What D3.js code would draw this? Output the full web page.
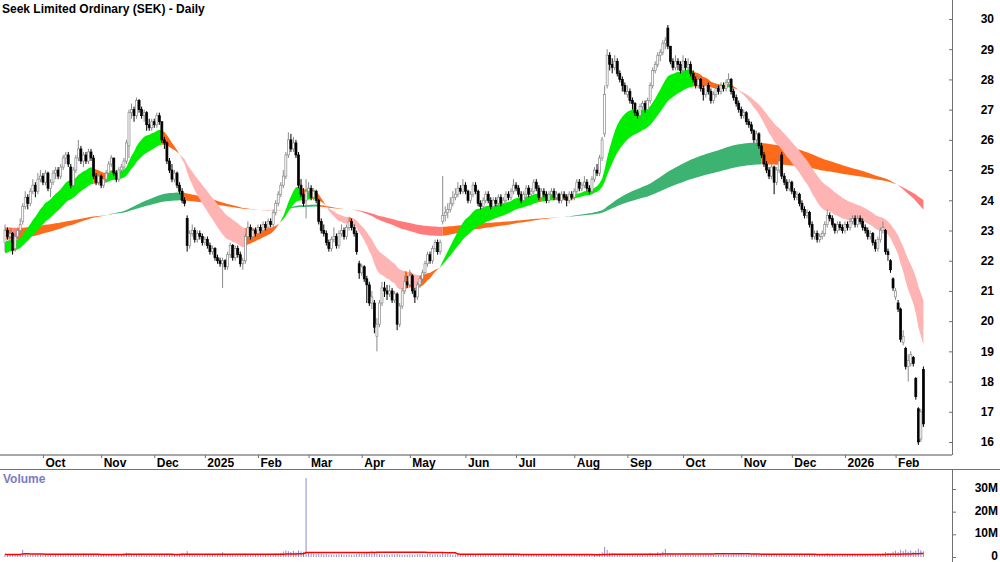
<!DOCTYPE html>
<html>
<head>
<meta charset="utf-8">
<script src="https://cdn.jsdelivr.net/npm/d3@7/dist/d3.min.js"></script>
<style>
  body { margin: 0; background: #fff; }
  svg { display: block; }
  text { font-family: "Liberation Sans Narrow", "Arial Narrow", "Liberation Sans", Arial, sans-serif; font-weight: bold; }
</style>
</head>
<body>
<svg id="chart" width="1000" height="562"></svg>
<script>
// trading days: Sep 10 2024 .. Feb 17 2026 (ASX holidays removed)
const holidays = ["2024-12-25", "2024-12-26", "2025-01-01", "2025-01-27", "2025-04-18", "2025-04-21",
  "2025-04-25", "2025-06-09", "2025-12-25", "2025-12-26", "2026-01-01", "2026-01-26"];

const opens = [
  22.6,23.0,22.8,22.9,22.4,22.8,23.0,23.3,23.8,24.1, 23.9,24.3,24.5,24.3,24.7,24.8,24.6,24.9,24.4,24.6,
  24.9,25.0,24.8,25.1,25.4,25.5,25.1,24.5,25.0,25.4, 25.7,25.3,25.5,25.3,25.6,25.4,24.8,24.6,24.8,24.5,
  24.7,24.9,25.2,25.4,24.9,24.7,25.0,25.1,25.3,25.8, 26.9,27.0,26.8,27.3,27.0,26.8,26.9,26.5,26.4,26.6,
  26.5,26.8,26.6,26.0,25.9,25.3,25.0,24.7,24.9,24.5, 24.3,24.0,23.4,22.5,22.9,23.0,22.7,22.9,22.8,22.6,
  22.7,22.5,22.3,22.4,22.1,22.0,21.9,22.0,21.8,22.2, 22.5,22.1,22.4,22.2,21.9,22.0,22.8,23.1,22.8,23.0,
  22.9,23.1,23.0,23.2,23.1,23.3,23.2,23.6,23.9,24.2, 24.5,24.8,25.5,26.0,25.7,25.9,25.5,24.5,24.2,24.0,
  24.3,24.4,24.1,24.3,24.0,23.3,23.0,22.9,22.6,22.4, 22.7,22.8,22.5,22.9,23.0,22.8,23.1,23.3,23.1,22.9,
  21.9,21.6,21.8,21.4,21.2,20.6,20.6,19.5,19.9,20.6, 21.1,21.0,20.9,21.0,20.7,20.9,19.9,20.5,21.0,21.3,
  21.2,21.5,21.0,20.8,21.2,21.4,21.6,21.9,22.2,22.0, 22.4,22.6,22.3,23.3,23.5,23.6,23.7,23.9,24.1,24.2,
  24.4,24.3,24.5,24.3,24.0,24.2,24.5,24.3,23.9,23.8, 24.0,24.2,24.0,23.8,24.0,23.9,24.1,23.9,24.0,24.2,
  24.1,24.3,24.5,24.4,24.2,24.0,24.2,24.4,24.2,24.3, 24.6,24.4,24.1,24.3,24.2,24.0,24.2,24.3,24.1,24.2,
  24.0,24.2,24.1,24.0,24.2,24.1,24.3,24.6,24.4,24.5, 24.6,24.4,24.3,24.7,25.0,24.9,25.4,26.2,27.8,28.8,
  28.5,28.4,28.6,28.2,28.0,27.8,27.5,27.6,27.3,27.2, 26.9,26.8,27.1,27.2,27.0,27.3,27.8,28.3,28.5,28.8,
  28.9,29.2,29.7,29.1,28.6,28.4,28.6,28.5,28.3,28.6, 28.4,28.5,28.2,28.0,27.8,28.0,27.7,27.5,27.8,27.6,
  27.3,27.5,27.7,27.6,27.8,27.7,27.9,28.0,27.6,27.4, 27.2,27.0,26.8,26.9,26.6,26.5,26.3,26.0,26.2,25.8,
  25.5,25.2,25.0,24.8,25.1,24.6,25.0,25.5,24.8,24.6, 24.4,24.6,24.3,24.1,24.2,23.9,23.7,23.5,23.6,23.2,
  22.8,22.9,22.7,22.8,22.9,23.2,23.5,23.4,23.2,23.0, 23.2,23.1,23.0,23.2,23.1,23.3,23.4,23.2,23.4,23.3,
  23.1,23.0,22.8,22.9,22.6,22.4,22.7,23.0,23.0,22.3, 22.0,21.4,20.8,20.6,20.4,19.3,19.1,18.5,18.6,18.8,
  18.1,17.1,16.1,18.4
];
const highs = [
  23.2,23.1,23.0,22.95,22.9,23.1,23.4,23.9,24.3,24.2, 24.4,24.7,24.6,24.9,25.0,24.9,25.0,24.95,24.7,25.0,
  25.1,25.1,25.2,25.5,25.6,25.6,25.2,25.1,25.5,26.0, 25.8,25.6,25.6,25.7,25.7,25.5,24.9,24.9,24.85,24.8,
  25.0,25.3,25.5,25.4,25.0,25.1,25.2,25.4,26.0,27.0, 27.2,27.1,27.4,27.35,27.1,27.0,26.95,26.7,26.7,26.7,
  26.9,26.9,26.6,26.1,25.95,25.4,25.2,25.0,24.95,24.6, 24.4,24.1,23.5,23.0,23.2,23.1,23.0,23.0,22.9,22.8,
  22.8,22.6,22.5,22.45,22.2,22.1,22.1,22.05,22.3,22.6, 22.55,22.5,22.5,22.3,22.1,22.9,23.3,23.2,23.1,23.1,
  23.2,23.2,23.3,23.3,23.4,23.4,23.7,24.0,24.3,24.6, 25.0,25.6,26.25,26.2,26.1,26.0,25.6,24.7,24.4,24.7,
  24.6,24.5,24.4,24.35,24.05,23.4,23.2,23.0,22.7,22.8, 23.1,22.9,23.0,23.2,23.1,23.2,23.45,23.4,23.2,23.0,
  22.0,21.9,21.85,21.5,21.3,21.0,20.7,20.1,20.7,21.3, 21.3,21.2,21.2,21.1,21.0,20.95,20.6,21.1,21.5,21.5,
  21.7,21.55,21.1,21.3,21.5,21.7,22.0,22.3,22.3,22.5, 22.7,22.7,22.7,24.8,23.8,23.9,24.1,24.3,24.4,24.6,
  24.5,24.7,24.6,24.35,24.3,24.6,24.6,24.35,24.0,24.1, 24.3,24.3,24.1,24.1,24.1,24.2,24.2,24.1,24.3,24.3,
  24.4,24.7,24.6,24.5,24.3,24.3,24.5,24.5,24.4,24.7, 24.7,24.5,24.4,24.4,24.3,24.3,24.4,24.4,24.3,24.25,
  24.3,24.3,24.2,24.3,24.3,24.4,24.7,24.7,24.6,24.8, 24.7,24.5,24.8,25.1,25.2,25.5,26.1,27.8,29.0,28.9,
  28.7,28.8,28.7,28.3,28.1,27.9,27.8,27.7,27.4,27.25, 27.0,27.2,27.3,27.3,27.4,27.9,28.4,28.6,28.9,29.0,
  29.3,29.4,29.8,29.1,28.7,28.8,28.7,28.6,28.8,28.7, 28.7,28.6,28.3,28.1,28.1,28.05,27.8,27.9,27.9,27.7,
  27.6,27.8,27.8,27.9,27.9,28.0,28.2,28.05,27.7,27.5, 27.3,27.1,27.0,26.95,26.7,26.6,26.35,26.3,26.25,25.9,
  25.6,25.3,25.1,25.2,25.15,25.1,25.6,25.6,24.9,24.7, 24.7,24.65,24.4,24.3,24.25,24.0,23.8,23.7,23.65,23.3,
  23.0,23.0,22.9,23.0,23.3,23.7,23.6,23.5,23.25,23.3, 23.3,23.2,23.3,23.3,23.4,23.5,23.5,23.5,23.5,23.4,
  23.2,23.1,23.0,22.95,22.7,22.8,23.1,23.3,23.05,22.4, 22.05,21.45,21.1,20.7,20.45,19.7,19.15,18.9,19.0,18.85,
  18.15,17.15,17.1,18.5
];
const lows = [
  22.3,22.7,22.6,22.2,22.3,22.7,22.9,23.2,23.7,23.7, 23.8,24.2,24.1,24.2,24.6,24.5,24.5,24.3,24.1,24.5,
  24.7,24.7,24.7,25.0,25.2,25.1,24.4,24.4,24.9,25.3, 25.2,25.1,25.2,25.2,25.3,24.7,24.5,24.5,24.4,24.4,
  24.6,24.8,25.1,24.8,24.6,24.6,24.9,25.0,25.2,25.4, 26.7,26.6,26.7,26.9,26.7,26.6,26.3,26.3,26.3,26.4,
  26.4,26.5,25.9,25.7,25.2,24.9,24.6,24.6,24.4,24.2, 23.9,23.8,22.3,22.4,22.8,22.6,22.6,22.7,22.5,22.5,
  22.4,22.2,22.2,22.0,21.9,21.8,21.1,21.7,21.7,22.1, 22.0,22.0,22.1,21.8,21.7,21.9,22.7,22.7,22.7,22.8,
  22.8,22.9,22.9,23.0,23.0,23.1,23.1,23.5,23.8,24.1, 24.4,24.7,25.4,25.6,25.6,25.4,24.4,24.1,23.8,23.4,
  24.2,24.0,24.0,23.9,23.2,22.9,22.8,22.5,22.3,22.3, 22.6,22.4,22.4,22.8,22.7,22.7,23.0,23.0,22.8,22.2,
  21.4,21.5,21.3,20.6,20.5,20.4,19.6,19.0,19.8,20.5, 20.8,20.7,20.8,20.6,20.6,19.7,19.8,20.4,20.9,21.1,
  21.1,20.9,20.6,20.7,21.1,21.3,21.5,21.8,21.9,21.9, 22.3,22.2,22.2,23.2,23.3,23.4,23.6,23.8,24.0,24.1,
  24.2,24.2,24.2,23.9,23.9,24.1,24.2,23.8,23.7,23.7, 23.9,23.9,23.7,23.7,23.8,23.8,23.8,23.8,23.9,24.0,
  24.0,24.2,24.3,24.1,23.9,23.9,24.1,24.1,24.1,24.2, 24.3,24.0,24.0,24.1,23.9,23.9,24.1,24.0,24.0,23.9,
  23.9,24.0,23.8,23.9,24.0,24.0,24.2,24.3,24.3,24.4, 24.3,24.2,24.2,24.6,24.8,24.8,25.3,26.1,27.7,28.3,
  28.2,28.3,28.1,27.9,27.6,27.5,27.4,27.2,27.0,26.8, 26.7,26.7,27.0,26.9,26.9,27.2,27.7,28.2,28.4,28.6,
  28.8,29.0,29.0,28.5,28.3,28.3,28.3,28.2,28.2,28.3, 28.3,28.1,27.9,27.7,27.7,27.6,27.3,27.4,27.5,27.2,
  27.2,27.4,27.5,27.5,27.6,27.6,27.8,27.5,27.3,27.1, 26.9,26.7,26.7,26.5,26.4,26.2,25.9,25.9,25.7,25.4,
  25.1,24.9,24.7,24.7,24.2,24.5,24.9,24.7,24.5,24.3, 24.3,24.2,24.0,24.0,23.8,23.6,23.4,23.4,23.1,22.7,
  22.7,22.6,22.6,22.7,22.8,23.1,23.3,23.1,22.9,22.9, 23.0,22.9,22.9,23.0,23.0,23.2,23.1,23.1,23.2,23.0,
  22.9,22.7,22.7,22.5,22.3,22.3,22.6,22.9,22.2,22.0, 21.6,21.0,20.7,20.3,19.3,19.2,18.4,18.0,18.5,18.5,
  17.4,15.9,16.0,16.5
];
const closes = [
  23.0,22.8,22.9,22.35,22.8,23.0,23.2,23.8,24.1,23.9, 24.3,24.5,24.3,24.7,24.8,24.6,24.9,24.4,24.6,24.9,
  25.0,24.8,25.1,25.4,25.5,25.2,24.5,25.0,25.4,25.7, 25.3,25.5,25.3,25.6,25.4,24.8,24.6,24.8,24.5,24.7,
  24.9,25.2,25.4,24.9,24.7,25.0,25.1,25.3,25.9,26.9, 27.0,26.8,27.3,27.0,26.8,26.9,26.5,26.4,26.6,26.5,
  26.8,26.6,26.0,25.9,25.3,25.0,24.7,24.9,24.5,24.3, 24.0,23.9,22.5,22.9,23.0,22.7,22.9,22.8,22.6,22.7,
  22.5,22.3,22.4,22.1,22.0,21.9,22.0,21.8,22.2,22.5, 22.1,22.4,22.2,21.9,22.0,22.8,23.1,22.8,23.0,22.9,
  23.1,23.0,23.2,23.1,23.3,23.2,23.6,23.9,24.2,24.5, 24.8,25.5,26.0,25.7,25.9,25.5,24.5,24.2,23.9,24.3,
  24.4,24.1,24.3,24.0,23.3,23.0,22.9,22.6,22.4,22.7, 22.8,22.5,22.9,23.0,22.8,23.1,23.3,23.1,22.9,22.3,
  21.6,21.8,21.4,21.2,20.6,20.8,19.8,19.9,20.6,21.1, 21.0,20.9,21.0,20.7,20.9,19.9,20.5,21.0,21.3,21.2,
  21.5,21.0,20.8,21.2,21.4,21.6,21.9,22.2,22.0,22.4, 22.6,22.3,22.6,23.5,23.6,23.7,23.9,24.1,24.2,24.4,
  24.3,24.5,24.3,24.0,24.2,24.5,24.3,23.9,23.8,24.0, 24.2,24.0,23.8,24.0,23.9,24.1,23.9,24.0,24.2,24.1,
  24.3,24.5,24.4,24.2,24.0,24.2,24.4,24.2,24.3,24.6, 24.4,24.1,24.3,24.2,24.0,24.2,24.3,24.1,24.2,24.0,
  24.2,24.1,24.0,24.2,24.1,24.3,24.6,24.4,24.5,24.6, 24.4,24.3,24.7,25.0,24.9,25.4,26.0,27.5,28.8,28.5,
  28.4,28.6,28.2,28.0,27.8,27.6,27.6,27.3,27.2,26.9, 26.8,27.1,27.2,27.0,27.3,27.8,28.3,28.5,28.8,28.9,
  29.2,29.3,29.1,28.6,28.4,28.6,28.5,28.3,28.6,28.4, 28.5,28.2,28.0,27.8,28.0,27.7,27.5,27.8,27.6,27.3,
  27.5,27.7,27.6,27.8,27.7,27.9,28.0,27.6,27.4,27.2, 27.0,26.8,26.9,26.6,26.5,26.3,26.0,26.2,25.8,25.5,
  25.2,25.0,24.8,25.1,24.6,25.0,25.3,24.8,24.6,24.4, 24.6,24.3,24.1,24.2,23.9,23.7,23.5,23.6,23.2,22.8,
  22.9,22.7,22.8,22.9,23.2,23.5,23.4,23.2,23.0,23.2, 23.1,23.0,23.2,23.1,23.3,23.4,23.2,23.4,23.3,23.1,
  23.0,22.8,22.9,22.6,22.4,22.7,23.0,23.1,22.3,22.2, 21.7,21.1,21.0,20.4,19.4,19.5,18.5,18.7,18.9,18.6,
  17.5,16.0,17.0,16.6
];
// daily volume, millions of shares
const volumes = [
  1.2,0.9,1.1,1.4,1.0,0.9,1.3,3.2,1.8,1.1,1.0,1.2,0.9,1.1,1.3,
  1.0,0.9,1.2,1.1,0.8,1.0,1.3,0.9,1.1,1.0,1.4,1.2,0.9,1.1,1.0,1.3,1.5,1.1,0.9,1.0,1.2,0.8,1.1,
  0.9,1.0,1.2,1.1,0.9,1.0,1.3,1.1,1.2,1.5,1.9,1.6,1.2,1.3,1.1,1.0,1.4,1.2,0.9,1.1,1.0,
  1.1,1.0,1.2,1.4,1.3,1.5,1.2,1.1,1.3,1.2,1.4,1.6,1.3,2.6,1.5,1.2,1.0,1.1,0.8,0.7,
  0.9,1.1,1.0,1.2,1.1,1.3,1.2,2.1,1.4,1.0,1.1,1.2,0.9,1.0,1.1,1.3,1.5,1.2,1.0,1.1,1.2,
  1.1,1.0,1.2,1.3,1.1,1.2,1.4,1.6,1.5,1.8,2.4,2.9,2.6,2.2,2.7,2.0,2.9,2.5,2.3,34.8,
  2.1,1.6,1.4,1.3,1.5,1.4,1.2,1.3,1.1,1.2,1.0,1.1,1.3,1.2,1.0,1.1,1.2,1.0,1.1,1.3,1.5,
  1.4,1.6,1.8,1.5,1.7,2.0,1.6,1.3,1.2,1.1,1.3,1.0,1.2,1.1,1.4,1.2,1.0,1.1,1.0,
  1.2,1.1,1.0,1.2,1.3,1.1,1.0,1.2,1.4,1.1,1.3,1.2,1.1,2.2,1.5,1.3,1.2,1.0,1.1,1.2,0.9,1.0,
  1.1,0.9,1.0,1.2,1.1,0.8,1.0,0.9,1.1,1.0,1.2,0.9,1.0,1.1,0.8,1.3,1.0,1.2,0.9,1.1,
  1.0,0.9,1.1,1.0,0.8,0.9,1.0,1.1,0.9,1.0,0.8,1.1,1.0,0.9,1.2,1.0,1.1,0.9,1.0,0.8,1.0,0.9,1.1,
  1.0,1.2,1.1,0.9,1.0,1.1,1.3,1.2,1.4,1.1,1.6,2.0,4.4,3.1,1.9,1.6,1.5,1.3,1.4,1.2,1.1,
  1.2,1.0,1.1,1.3,1.2,1.0,1.1,1.2,1.4,1.8,1.5,1.3,2.1,1.6,2.4,3.6,1.8,1.5,1.3,1.2,1.1,1.0,
  1.1,1.0,1.2,0.9,1.1,1.0,1.2,1.1,0.9,1.0,1.1,1.2,0.9,1.0,1.1,1.0,1.2,0.9,1.1,1.0,1.3,1.1,1.2,
  1.3,1.1,1.0,1.2,1.1,1.4,1.2,1.0,1.1,1.3,1.2,1.0,1.1,1.4,1.2,1.0,1.3,1.1,1.0,1.2,
  1.1,1.0,1.2,1.1,0.9,1.0,1.3,1.1,1.0,1.2,0.9,1.1,1.0,1.2,1.6,1.1,1.0,0.9,0.8,0.7,0.9,
  1.0,1.1,1.2,1.0,1.1,1.3,1.0,1.2,1.1,1.0,1.2,1.4,1.3,1.5,1.2,1.6,2.2,1.8,1.5,2.4,
  2.8,2.1,3.2,2.6,3.3,2.4,2.9,2.3,2.8,3.7,3.0,2.5
];
const priceTicks = d3.range(16, 31);
const volumeTicks = [0, 10, 20, 30];

// moving-average ribbons: fast and slow EMA per ribbon, value at the first bar
const shortPeriods = [18, 35];
const shortStart = [22.6, 22.2];
const longPeriods = [150, 250];
const longStart = [22.7, 23.1];

const shortColors = { bull: "#00ee00", bear: "#ffb4b4", mixed: "#ff6a1a" };
const longColors = { bull: "#3cb371", bear: "#ff7b7b", mixed: "#ff6a1a" };

const n = closes.length;
const fmt = d3.utcFormat("%Y-%m-%d");
const days = d3.utcDays(new Date(Date.UTC(2024, 8, 10)), new Date(Date.UTC(2026, 1, 18)))
  .filter(d => d.getUTCDay() % 6 !== 0 && !holidays.includes(fmt(d)))
  .slice(0, n);

const svg = d3.select("#chart");
const axisX = 952;

const x = d3.scaleLinear().domain([0, n - 1]).range([5, 923.4]);
const y = d3.scaleLinear().domain([16, 30]).range([442, 19]);
const yv = d3.scaleLinear().domain([0, 30]).range([557, 489]);

function emaSeries(vals, period, start) {
  const k = 2 / (period + 1);
  let e = start;
  return vals.map(v => (e = e + k * (v - e)));
}

// green: fast above slow and ribbon rising; red: fast below and falling; orange otherwise
function drawRibbon(periods, starts, colors) {
  const [fast, slow] = periods.map((p, j) => emaSeries(closes, p, starts[j]));
  const state = closes.map((_, i) => {
    const j = Math.max(0, i - 1);
    const up = fast[i] + slow[i] >= fast[j] + slow[j];
    const above = fast[i] > slow[i];
    if (above && up) return "bull";
    if (!above && !up) return "bear";
    return "mixed";
  });
  const area = d3.area().x(i => x(i)).y0(i => y(fast[i])).y1(i => y(slow[i]));
  const g = svg.append("g");
  let s = 0;
  for (let i = 1; i <= n; i++) {
    if (i === n || state[i] !== state[s]) {
      g.append("path")
        .attr("d", area(d3.range(s, Math.min(i + 1, n))))
        .attr("fill", colors[state[s]]);
      s = i;
    }
  }
}

drawRibbon(longPeriods, longStart, longColors);
drawRibbon(shortPeriods, shortStart, shortColors);

// candles
const candles = svg.append("g").selectAll("g").data(d3.range(n)).join("g");
candles.append("line")
  .attr("x1", i => x(i)).attr("x2", i => x(i))
  .attr("y1", i => y(highs[i])).attr("y2", i => y(lows[i]))
  .attr("stroke", i => closes[i] < opens[i] ? "#000" : "#8a8a8a")
  .attr("stroke-width", 1);
candles.append("rect")
  .attr("x", i => x(i) - 1)
  .attr("width", 2)
  .attr("y", i => y(Math.max(opens[i], closes[i])))
  .attr("height", i => Math.max(0.8, Math.abs(y(opens[i]) - y(closes[i]))))
  .attr("fill", i => closes[i] < opens[i] ? "#000" : "#fff")
  .attr("stroke", i => closes[i] < opens[i] ? "#000" : "#8a8a8a")
  .attr("stroke-width", 0.7);

// volume
svg.append("g").selectAll("line").data(d3.range(n)).join("line")
  .attr("x1", i => x(i)).attr("x2", i => x(i))
  .attr("y1", yv(0)).attr("y2", i => yv(volumes[i]))
  .attr("stroke", "#8c8cd2").attr("stroke-width", 1);

const volAvg = volumes.map((_, i) => d3.mean(volumes.slice(Math.max(0, i - 59), i + 1)));
svg.append("path")
  .attr("d", d3.line().x((_, i) => x(i)).y(v => yv(v))(volAvg))
  .attr("fill", "none").attr("stroke", "#ff0000").attr("stroke-width", 1.5);

// frame lines
svg.append("line").attr("x1", 0).attr("x2", axisX).attr("y1", 455).attr("y2", 455)
  .attr("stroke", "#a8a8a8").attr("stroke-width", 2);
svg.append("line").attr("x1", 0).attr("x2", 1000).attr("y1", 469.5).attr("y2", 469.5)
  .attr("stroke", "#707070").attr("stroke-width", 1);
svg.append("line").attr("x1", axisX + 0.5).attr("x2", axisX + 0.5).attr("y1", 0).attr("y2", 455)
  .attr("stroke", "#707070");
svg.append("line").attr("x1", axisX + 0.5).attr("x2", axisX + 0.5).attr("y1", 469).attr("y2", 562)
  .attr("stroke", "#707070");

// price axis
const pAxis = svg.append("g").attr("transform", `translate(${axisX},0)`)
  .call(d3.axisLeft(y).tickValues(priceTicks).tickSize(3).tickFormat(""));
pAxis.select(".domain").remove();
pAxis.selectAll("line").attr("stroke", "#707070");
const pLabels = svg.append("g").attr("transform", `translate(${axisX},0)`)
  .call(d3.axisRight(y).tickValues(priceTicks).tickSize(0).tickFormat(d3.format("d")));
pLabels.select(".domain").remove();
pLabels.selectAll("text").attr("x", 42).attr("text-anchor", "end")
  .attr("font-size", 12).attr("fill", "#000").attr("font-family", null);

// volume axis
const vAxis = svg.append("g").attr("transform", `translate(${axisX + 1},0)`)
  .call(d3.axisRight(yv).tickValues(volumeTicks).tickSize(3)
    .tickFormat(v => v === 0 ? "0" : v + "M"));
vAxis.select(".domain").remove();
vAxis.selectAll("line").attr("stroke", "#707070");
vAxis.selectAll("text").attr("x", 45).attr("y", -1.5).attr("text-anchor", "end")
  .attr("font-size", 12).attr("fill", "#000").attr("font-family", null);

// date axis
const monthStarts = d3.range(1, n).filter(i => days[i].getUTCMonth() !== days[i - 1].getUTCMonth());
const monthName = d3.utcFormat("%b");
const dAxis = svg.append("g").attr("transform", "translate(0,455)")
  .call(d3.axisBottom(x).tickValues(monthStarts).tickSize(3)
    .tickFormat(i => days[i].getUTCMonth() === 0 ? String(days[i].getUTCFullYear()) : monthName(days[i])));
dAxis.select(".domain").remove();
dAxis.selectAll("line").attr("stroke", "#707070");
dAxis.selectAll("text").attr("x", 2).attr("y", 12).attr("dy", null)
  .attr("text-anchor", "start").attr("font-size", 12).attr("fill", "#000").attr("font-family", null);

// titles
svg.append("text").attr("x", 2).attr("y", 13).attr("font-size", 12).attr("fill", "#000")
  .text("Seek Limited Ordinary (SEK) - Daily");
svg.append("text").attr("x", 3).attr("y", 483).attr("font-size", 12).attr("fill", "#7b7bc0")
  .text("Volume");
</script>
</body>
</html>
